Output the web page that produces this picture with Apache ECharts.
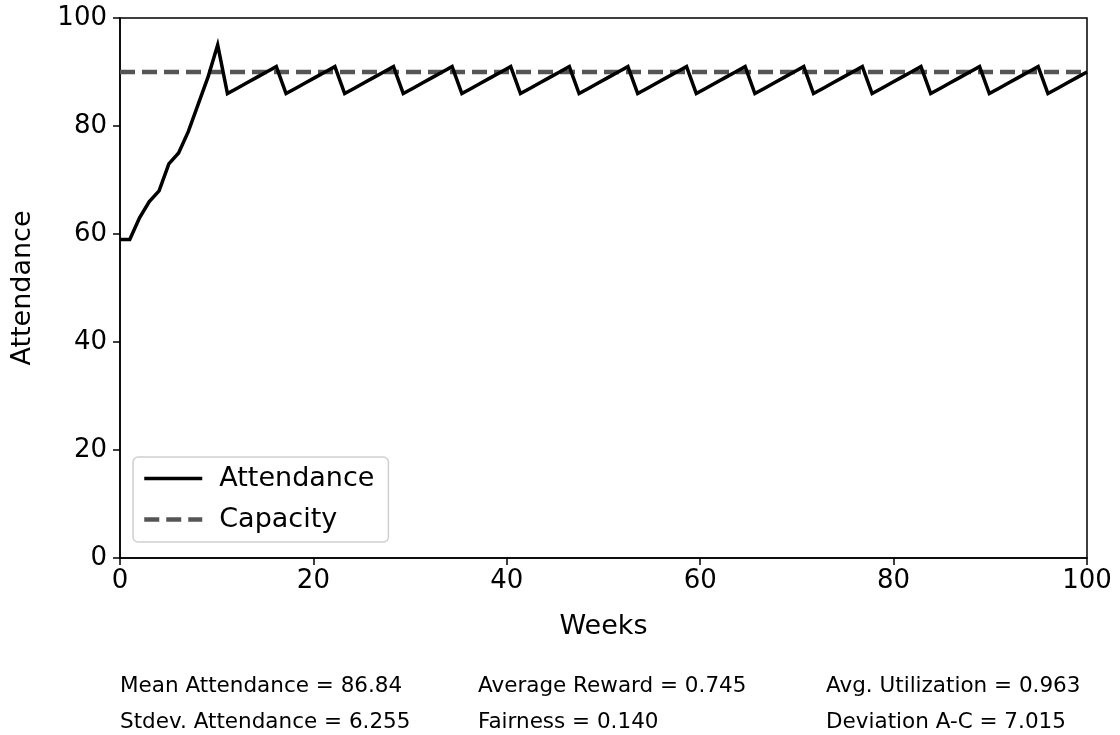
<!DOCTYPE html>
<html>
<head>
<meta charset="utf-8">
<script src="https://cdn.jsdelivr.net/npm/echarts@6/dist/echarts.min.js"></script>
<style>
  html, body { margin: 0; padding: 0; background: #fff; }
  #chart { width: 1120px; height: 735px; }
</style>
</head>
<body>
<div id="chart"></div>
<script>
// weekly attendance (100 weeks, drawn over 0..100)
const attendance = [
  59, 59, 63, 66, 68, 73, 75, 79, 84, 89, 95,
  86, 87, 88, 89, 90, 91, 86, 87, 88, 89, 90, 91,
  86, 87, 88, 89, 90, 91, 86, 87, 88, 89, 90, 91,
  86, 87, 88, 89, 90, 91, 86, 87, 88, 89, 90, 91,
  86, 87, 88, 89, 90, 91, 86, 87, 88, 89, 90, 91,
  86, 87, 88, 89, 90, 91, 86, 87, 88, 89, 90, 91,
  86, 87, 88, 89, 90, 91, 86, 87, 88, 89, 90, 91,
  86, 87, 88, 89, 90, 91, 86, 87, 88, 89, 90, 91,
  86, 87, 88, 89, 90
];
const capacity = 90;
const xTicks = [0, 20, 40, 60, 80, 100];
const statsLeft = ['Mean Attendance = 86.84', 'Stdev. Attendance = 6.255'];
const statsMid = ['Average Reward = 0.745', 'Fairness = 0.140'];
const statsRight = ['Avg. Utilization = 0.963', 'Deviation A-C = 7.015'];

const weeks = attendance.map((_, i) => i * 100 / (attendance.length - 1));
const font = 'DejaVu Sans';

const chart = echarts.init(document.getElementById('chart'));

function statText(x, lines) {
  return lines.map((t, i) => ({
    type: 'text',
    left: x,
    top: 675 + i * 36,
    style: { text: t, font: '21.5px "DejaVu Sans"', fill: '#000' }
  }));
}

const option = {
  animation: false,
  backgroundColor: '#fff',
  textStyle: { fontFamily: font },
  grid: {
    left: 120, right: 33, top: 18, bottom: 177,
    show: true, borderColor: '#000', borderWidth: 1.5
  },
  legend: {
    left: 133, top: 457,
    orient: 'vertical',
    itemWidth: 58, itemHeight: 26, itemGap: 14,
    padding: [8, 14, 9, 9],
    borderColor: '#d0d0d0', borderWidth: 1.5, borderRadius: 5,
    backgroundColor: 'rgba(255,255,255,0.8)',
    textStyle: { fontSize: 27, color: '#000', fontFamily: font, padding: [0, 0, 0, 12] },
    data: [
      { name: 'Attendance', itemStyle: { opacity: 0 }, lineStyle: { color: '#000', width: 3.5 } },
      { name: 'Capacity', itemStyle: { opacity: 0 }, lineStyle: { color: '#555', width: 4.5, type: [15, 7] } }
    ]
  },
  xAxis: {
    type: 'value', min: 0, max: 100, interval: 20,
    name: 'Weeks', nameLocation: 'middle', nameGap: 55,
    nameTextStyle: { fontSize: 27, color: '#000', fontFamily: font },
    axisLine: { lineStyle: { color: '#000', width: 1.5 } },
    axisTick: { show: true, length: 7, lineStyle: { color: '#000', width: 1.5 } },
    axisLabel: { fontSize: 26, color: '#000', margin: 10, fontFamily: font,
      formatter: v => xTicks.includes(v) ? String(v) : '' },
    splitLine: { show: false }
  },
  yAxis: {
    type: 'value', min: 0, max: 100, interval: 20,
    name: 'Attendance', nameLocation: 'middle', nameGap: 84,
    nameTextStyle: { fontSize: 27, color: '#000', fontFamily: font },
    axisLine: { show: true, lineStyle: { color: '#000', width: 1.5 } },
    axisTick: { show: true, length: 7, lineStyle: { color: '#000', width: 1.5 } },
    axisLabel: { fontSize: 26, color: '#000', margin: 13, fontFamily: font },
    splitLine: { show: false }
  },
  series: [
    {
      name: 'Attendance',
      type: 'line',
      data: weeks.map((w, i) => [w, attendance[i]]),
      symbol: 'none',
      itemStyle: { color: '#000' },
      lineStyle: { color: '#000', width: 3.5, join: 'miter' },
      z: 3
    },
    {
      name: 'Capacity',
      type: 'line',
      data: [[0, capacity], [100, capacity]],
      symbol: 'none',
      itemStyle: { color: '#555' },
      lineStyle: { color: '#555', width: 4.5, type: [15, 7] },
      z: 2
    }
  ],
  graphic: [].concat(statText(120, statsLeft), statText(478, statsMid), statText(826, statsRight))
};

chart.setOption(option);
</script>
</body>
</html>
